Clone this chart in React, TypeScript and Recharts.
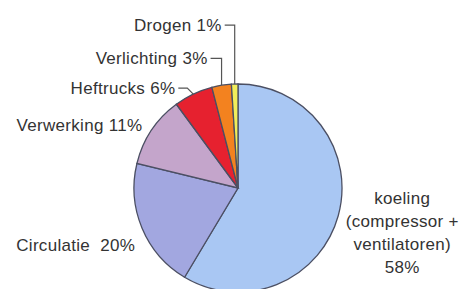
import { PieChart, Pie, Cell } from 'recharts'

// energy use shares, clockwise from 12 o'clock
const names = ['koeling', 'Circulatie', 'Verwerking', 'Heftrucks', 'Verlichting', 'Drogen']
const values = [58, 20, 11, 6, 3, 1]
const labelLines = [
  ['koeling', '(compressor +', 'ventilatoren)', '58%'],
  ['Circulatie  20%'],
  ['Verwerking 11%'],
  ['Heftrucks 6%'],
  ['Verlichting 3%'],
  ['Drogen 1%'],
]
const colors = ['#a9c7f3', '#a2a7e0', '#c4a5cb', '#e6212f', '#f3821f', '#f1ee5a']

// label placement relative to the slice's outer edge point
const labelLayout = [
  { dx: 64, dy: 17, anchor: 'middle', leader: 'none' },
  { dx: -7, dy: 17, anchor: 'end', leader: 'none' },
  { dx: -9, dy: -5, anchor: 'end', leader: 'none' },
  { dx: -18, dy: -6, anchor: 'end', leader: 'bent' },
  { dx: -14, dy: -27, anchor: 'end', leader: 'elbow' },
  { dx: -13, dy: -59, anchor: 'end', leader: 'elbow' },
]

const data = names.map((name, i) => ({ name, value: values[i] }))
const RAD = Math.PI / 180
const FONT = '"Liberation Sans", Arial, sans-serif'

const renderLabel = (props: any) => {
  const { cx, cy, midAngle, outerRadius, index } = props
  const ex = cx + outerRadius * Math.cos(-midAngle * RAD)
  const ey = cy + outerRadius * Math.sin(-midAngle * RAD)
  const lay = labelLayout[index]
  const tx = ex + lay.dx
  const ty = ey + lay.dy
  const lines = labelLines[index]
  const lh = 23
  let leader = null
  if (lay.leader === 'elbow') {
    leader = <path d={`M${tx + 3},${ty} L${ex},${ty} L${ex},${ey}`} stroke="#555" fill="none" strokeWidth={1.2} />
  } else if (lay.leader === 'bent') {
    leader = <path d={`M${tx + 3},${ty} L${ex - 6},${ty} L${ex},${ey}`} stroke="#555" fill="none" strokeWidth={1.2} />
  }
  return (
    <g key={`lbl-${index}`}>
      {leader}
      <text
        x={tx}
        y={ty - ((lines.length - 1) * lh) / 2}
        textAnchor={lay.anchor}
        dominantBaseline="central"
        fill="#333"
        fontSize={17}
        letterSpacing={0.3}
        fontFamily={FONT}
        style={{ whiteSpace: 'pre' }}
      >
        {lines.map((l, i) => (
          <tspan key={i} x={tx} dy={i === 0 ? 0 : lh}>{l}</tspan>
        ))}
      </text>
    </g>
  )
}

export default function App() {
  return (
    <div style={{ position: 'absolute', left: 0, top: 0, width: 463, height: 289, background: '#fff' }}>
      <PieChart width={463} height={289} margin={{ top: 0, right: 0, bottom: 0, left: 0 }}>
        <Pie
          data={data}
          dataKey="value"
          nameKey="name"
          cx={238}
          cy={188}
          outerRadius={104}
          startAngle={90}
          endAngle={-270}
          labelLine={false}
          label={renderLabel}
          isAnimationActive={false}
        >
          {data.map((entry, index) => (
            <Cell key={`cell-${index}`} fill={colors[index]} stroke="#4b4f63" strokeWidth={1.3} />
          ))}
        </Pie>
      </PieChart>
    </div>
  )
}
